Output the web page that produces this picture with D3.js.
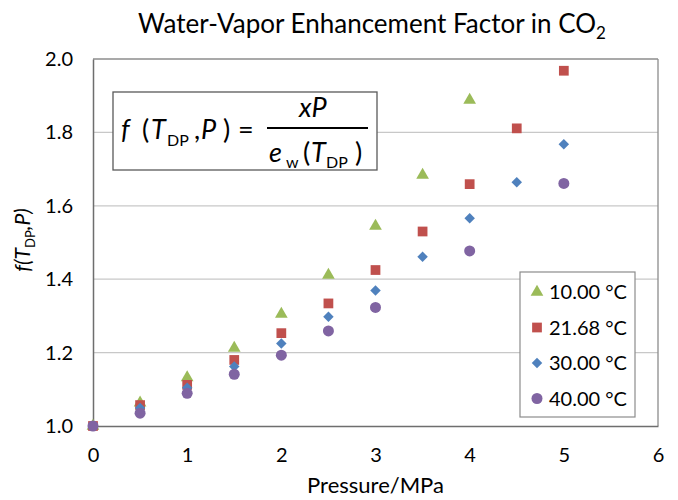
<!DOCTYPE html>
<html>
<head>
<meta charset="utf-8">
<script src="https://cdn.jsdelivr.net/npm/d3@7"></script>
<style>
  body { margin: 0; background: #fff; }
  svg text { font-family: Lato, "Open Sans", sans-serif; fill: #000; }
</style>
</head>
<body>
<div id="chart"></div>
<script>
// data
var pressure10 = [0, 0.5, 1, 1.5, 2, 2.5, 3, 3.5, 4];
var f10 = [1.0, 1.063, 1.132, 1.212, 1.305, 1.411, 1.545, 1.684, 1.888];
var pressure21 = [0, 0.5, 1, 1.5, 2, 2.5, 3, 3.5, 4, 4.5, 5];
var f21 = [1.0, 1.057, 1.112, 1.180, 1.253, 1.334, 1.425, 1.530, 1.659, 1.811, 1.968];
var pressure30 = [0, 0.5, 1, 1.5, 2, 2.5, 3, 3.5, 4, 4.5, 5];
var f30 = [1.0, 1.049, 1.104, 1.162, 1.225, 1.298, 1.369, 1.461, 1.566, 1.664, 1.768];
var pressure40 = [0, 0.5, 1, 1.5, 2, 2.5, 3, 4, 5];
var f40 = [1.0, 1.035, 1.089, 1.141, 1.193, 1.259, 1.323, 1.477, 1.661];
var seriesNames = ["10.00 °C", "21.68 °C", "30.00 °C", "40.00 °C"];
var xTicks = [0, 1, 2, 3, 4, 5, 6];
var yTicks = [1.0, 1.2, 1.4, 1.6, 1.8, 2.0];

var colors = ["#9bbb59", "#c0504d", "#4f81bd", "#8064a2"];
var shapes = ["triangle", "square", "diamond", "circle"];

var width = 678, height = 500;
var margin = {top: 59, right: 20, bottom: 74, left: 93};

var svg = d3.select("#chart").append("svg")
  .attr("width", width)
  .attr("height", height);

var x = d3.scaleLinear().domain([0, 6]).range([margin.left, width - margin.right]);
var y = d3.scaleLinear().domain([1.0, 2.0]).range([height - margin.bottom, margin.top]);

// gridlines
svg.append("g")
  .selectAll("line")
  .data(yTicks.slice(1))
  .enter().append("line")
    .attr("x1", x(0)).attr("x2", x(6))
    .attr("y1", function(d) { return y(d); })
    .attr("y2", function(d) { return y(d); })
    .attr("stroke", function(d) { return d === 2.0 ? "#8c8c8c" : "#c8c8c8"; })
    .attr("stroke-width", 1.3);

// right border
svg.append("line")
  .attr("x1", x(6)).attr("x2", x(6))
  .attr("y1", y(2.0)).attr("y2", y(1.0))
  .attr("stroke", "#8c8c8c").attr("stroke-width", 1.3);

// axes
var xAxis = d3.axisBottom(x).tickValues(xTicks).tickSize(0).tickPadding(22)
  .tickFormat(d3.format("d"));
var gx = svg.append("g")
  .attr("transform", "translate(0," + y(1.0) + ")")
  .call(xAxis);
var yAxis = d3.axisLeft(y).tickValues(yTicks).tickSize(0).tickPadding(20)
  .tickFormat(d3.format(".1f"));
var gy = svg.append("g")
  .attr("transform", "translate(" + x(0) + ",0)")
  .call(yAxis);
[gx, gy].forEach(function(g) {
  g.select(".domain").attr("stroke", "#6e6e6e").attr("stroke-width", 1.5);
  g.selectAll("text").style("font-size", "20px").attr("fill", "#000");
});

// formula box
var fb = svg.append("g");
fb.append("rect")
  .attr("x", 113).attr("y", 92).attr("width", 264).attr("height", 78)
  .attr("fill", "#fff").attr("stroke", "#595959").attr("stroke-width", 1.3);
function piece(tx, ty, str, size, italic) {
  fb.append("text")
    .attr("x", tx).attr("y", ty)
    .style("font-size", size + "px")
    .style("font-style", italic ? "italic" : "normal")
    .text(str);
}
piece(121, 139, "f", 27, true);
piece(142, 139, "(", 27, false);
piece(151, 139, "T", 27, true);
piece(167, 146, "DP", 16, false);
piece(194, 139, ",", 27, false);
piece(201, 139, "P", 27, true);
piece(223, 139, ")", 27, false);
piece(238, 139, "=", 27, false);
piece(299, 117, "xP", 27, true);
fb.append("line")
  .attr("x1", 267).attr("x2", 368).attr("y1", 128).attr("y2", 128)
  .attr("stroke", "#000").attr("stroke-width", 1.8);
piece(269, 162, "e", 27, true);
piece(286, 168, "w", 16, false);
piece(303, 162, "(", 27, false);
piece(311, 162, "T", 27, true);
piece(326, 168, "DP", 16, false);
piece(355, 162, ")", 27, false);

// markers
function symbolFor(shape) {
  if (shape === "triangle") return d3.symbol().type(d3.symbolTriangle).size(70);
  if (shape === "square") return d3.symbol().type(d3.symbolSquare).size(95);
  if (shape === "diamond") return d3.symbol().type(d3.symbolSquare).size(55);
  return d3.symbol().type(d3.symbolCircle).size(95);
}
var allSeries = [
  {p: pressure10, f: f10},
  {p: pressure21, f: f21},
  {p: pressure30, f: f30},
  {p: pressure40, f: f40}
];
allSeries.forEach(function(s, i) {
  var pts = s.p.map(function(p, j) { return {p: p, f: s.f[j]}; });
  svg.append("g")
    .selectAll("path")
    .data(pts)
    .enter().append("path")
      .attr("d", symbolFor(shapes[i])())
      .attr("fill", colors[i])
      .attr("transform", function(d) {
        return "translate(" + x(d.p) + "," + y(d.f) + ")" + (shapes[i] === "diamond" ? " rotate(45)" : "");
      });
});

// legend
var lg = svg.append("g");
lg.append("rect")
  .attr("x", 520).attr("y", 272).attr("width", 115).attr("height", 145)
  .attr("fill", "#fff").attr("stroke", "#8c8c8c").attr("stroke-width", 1.2);
seriesNames.forEach(function(name, i) {
  var ly = 292 + i * 35.5;
  lg.append("path")
    .attr("d", symbolFor(shapes[i])())
    .attr("fill", colors[i])
    .attr("transform", "translate(537," + ly + ")" + (shapes[i] === "diamond" ? " rotate(45)" : ""));
  lg.append("text")
    .attr("x", 549).attr("y", ly + 7)
    .style("font-size", "20px")
    .text(name);
});

// title
var title = svg.append("text")
  .attr("x", 372).attr("y", 33)
  .attr("text-anchor", "middle")
  .style("font-size", "26px");
title.append("tspan").text("Water-Vapor Enhancement Factor in CO");
title.append("tspan").attr("dy", 6).style("font-size", "17px").text("2");

// axis titles
svg.append("text")
  .attr("x", x(3)).attr("y", 493)
  .attr("text-anchor", "middle")
  .style("font-size", "22px")
  .text("Pressure/MPa");

var yl = svg.append("text")
  .attr("transform", "translate(30,240) rotate(-90)")
  .attr("text-anchor", "middle")
  .style("font-size", "21px")
  .style("font-style", "italic");
yl.append("tspan").text("f(T");
yl.append("tspan").attr("dy", 5).style("font-size", "13px").style("font-style", "normal").text("DP");
yl.append("tspan").attr("dy", -5).text(",P)");
</script>
</body>
</html>
